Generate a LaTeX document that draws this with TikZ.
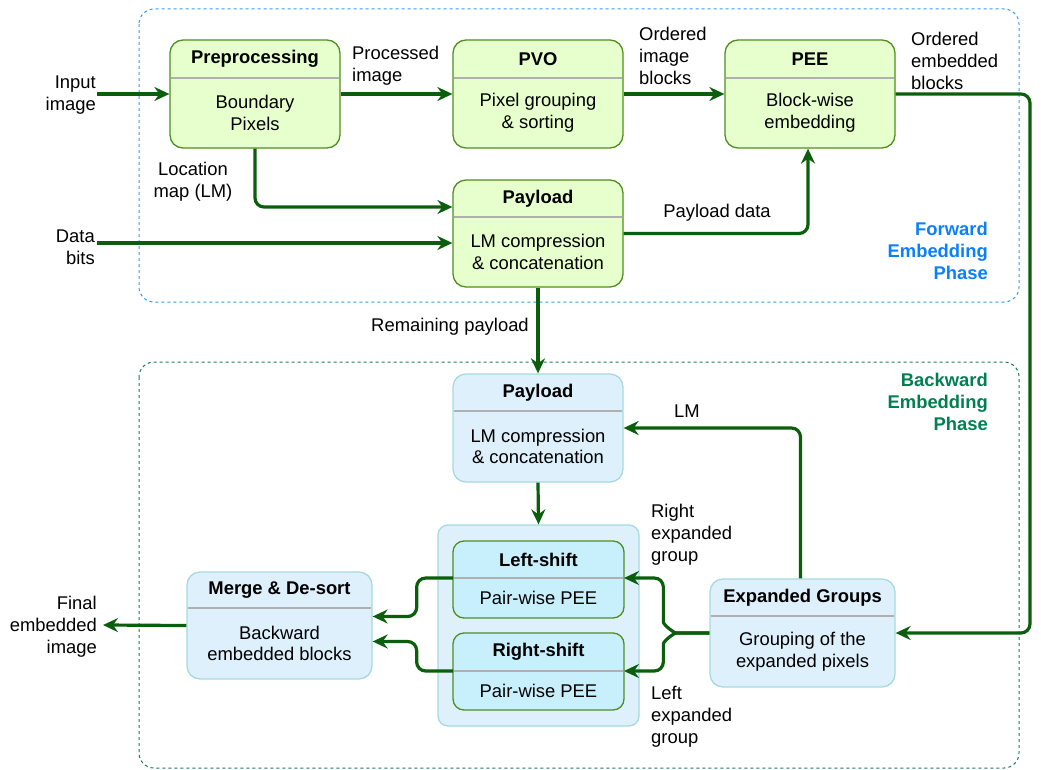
\documentclass[tikz,border=0pt]{standalone}
\usepackage{fontspec}
\setmainfont{Liberation Sans}
\usetikzlibrary{arrows.meta,fit,calc}
\definecolor{gfill}{HTML}{E6FFCC}
\definecolor{gdraw}{HTML}{4F8F1F}
\definecolor{bfill}{HTML}{DDF0FC}
\definecolor{bdraw}{HTML}{A6DADC}
\definecolor{cfill}{HTML}{C8F0FC}
\definecolor{conncol}{HTML}{0B5E0B}
\definecolor{divcol}{HTML}{B0B0B0}
\definecolor{fwdcol}{HTML}{0A80FF}
\definecolor{bwdcol}{HTML}{008050}
\definecolor{fwddash}{HTML}{3399FF}
\definecolor{bwddash}{HTML}{1A7A55}
\newcommand\blk[9]{%
  \node[#2, fit={(#3,#4) (#5,#6)}, inner sep=0pt] (#1) {};
  \coordinate (#1-dl) at (#3,#7);
  \coordinate (#1-dr) at (#5,#7);
  \draw[divline] ($(#1-dl)+(0.7,0)$) -- ($(#1-dr)+(-0.7,0)$);
  \node[titletext] (#1-t) at ({(#3+#5)/2},{(#4+#7)/2}) {#8};
  \node[bodytext] (#1-b) at ({(#3+#5)/2},{(#7+#6)/2}) {#9};
}
\begin{document}
\begin{tikzpicture}[x=1pt,y=-1pt,
  every node/.style={font=\fontsize{18.4}{21.8}\selectfont, inner sep=0pt},
  greenbox/.style={draw=gdraw, fill=gfill, rounded corners=13pt, line width=1.3pt},
  bluebox/.style={draw=bdraw, fill=bfill, rounded corners=13pt, line width=1.3pt},
  cyanbox/.style={draw=gdraw, fill=cfill, rounded corners=11pt, line width=1.3pt},
  contbox/.style={draw=bdraw, fill=bfill, rounded corners=10pt, line width=1.3pt},
  divline/.style={draw=divcol, line width=1.3pt},
  titletext/.style={font=\fontsize{18.4}{21.8}\selectfont\bfseries, align=center},
  bodytext/.style={align=center},
  lbl/.style={align=left},
  conn/.style={draw=conncol, line width=3.2pt, rounded corners=9pt,
    -{Stealth[length=15pt,width=14pt,inset=5pt]}},
  phase/.style={font=\fontsize{18.4}{21.8}\selectfont\bfseries, align=right},
]
\useasboundingbox (0,0) rectangle (1041,770);
% phase frames
\draw[fwddash, dashed, line width=1pt, rounded corners=15pt] (139,9) rectangle (1019,302);
\draw[bwddash, dashed, line width=1pt, rounded corners=15pt] (139,362) rectangle (1019,768);
\node[phase, text=fwdcol, anchor=east] (fwdlbl) at (988,251) {Forward\\Embedding\\Phase};
\node[phase, text=bwdcol, anchor=east] (bwdlbl) at (988,402) {Backward\\Embedding\\Phase};

% forward blocks
\blk{pre}{greenbox}{170}{40}{340}{148}{78}{Preprocessing}{Boundary\\Pixels}
\blk{pvo}{greenbox}{453}{40}{623}{148}{78}{PVO}{Pixel grouping\\\& sorting}
\blk{pee}{greenbox}{725}{40}{895}{148}{78}{PEE}{Block-wise\\embedding}
\blk{payf}{greenbox}{453}{180}{623}{287}{217}{Payload}{LM compression\\\& concatenation}

% backward blocks
\blk{payb}{bluebox}{453}{374}{623}{482}{411}{Payload}{LM compression\\\& concatenation}
\node[contbox, fit={(438,525) (639,726)}, inner sep=0pt] (cont) {};
\blk{ls}{cyanbox}{453}{541}{624}{618}{578}{Left-shift}{Pair-wise PEE}
\blk{rs}{cyanbox}{453}{633}{624}{710}{671}{Right-shift}{Pair-wise PEE}
\blk{merge}{bluebox}{187}{572}{372}{679}{608}{Merge \& De-sort}{Backward\\embedded blocks}
\blk{eg}{bluebox}{710}{579}{895}{687}{616}{Expanded Groups}{Grouping of the\\expanded pixels}

% labels
\node[align=right, anchor=east] (inimg) at (96,95) {Input\\image};
\node[align=right, anchor=east] (dbits) at (95,247) {Data\\bits};
\node[align=right, anchor=east] (finimg) at (97,627) {Final\\embedded\\image};
\node[lbl, anchor=west] (lproc) at (352,66) {Processed\\image};
\node[lbl, anchor=west] (lord) at (639,56) {Ordered\\image\\blocks};
\node[lbl, anchor=west] (lordemb) at (911,61) {Ordered\\embedded\\blocks};
\node[align=center] (llm) at (193,182) {Location\\map (LM)};
\node (lpay) at (717,213) {Payload data};
\node (lrem) at (450,327) {Remaining payload};
\node (llm2) at (687,411) {LM};
\node[lbl, anchor=west] (lright) at (651,535) {Right\\expanded\\group};
\node[lbl, anchor=west] (lleft) at (651,717) {Left\\expanded\\group};

\coordinate (inS) at (97,94);
\coordinate (dbS) at (97,243);
\coordinate (finE) at (103,625);
\coordinate (rt) at (1030,0);

% forward connectors
\draw[conn] (inS) -- (pre.west);
\draw[conn] (pre.east) -- (pvo.west);
\draw[conn] (pvo.east) -- (pee.west);
\draw[conn] (pee.east) -| (rt |- eg.east) -- (eg.east);
\draw[conn] (pre.south) |- ([yshift=26.5pt]payf.west);
\draw[conn] (dbS) -- (payf.west |- dbS);
\draw[conn] (payf.east) -| ([xshift=-2pt]pee.south);
\draw[conn] (payf.south) -- (payb.north);

% backward connectors
\draw[conn] (payb.south) -- (cont.north);
\draw[conn] ([xshift=-2pt]eg.north) |- (payb.east);
\draw[conn] (eg.west) -- ++(-24,0) to[out=180,in=-90] ++(-22,-20) |- (ls-dr);
\draw[conn] (eg.west) -- ++(-24,0) to[out=180,in=90] ++(-22,20) |- (rs-dr);
\draw[conn] (ls-dl) -| ([xshift=44pt,yshift=9pt]merge.east) -- ([yshift=9pt]merge.east);
\draw[conn] (rs-dl) -| ([xshift=44pt,yshift=-16pt]merge.east) -- ([yshift=-16pt]merge.east);
\draw[conn] (merge.west) -- (finE);
\end{tikzpicture}
\end{document}
